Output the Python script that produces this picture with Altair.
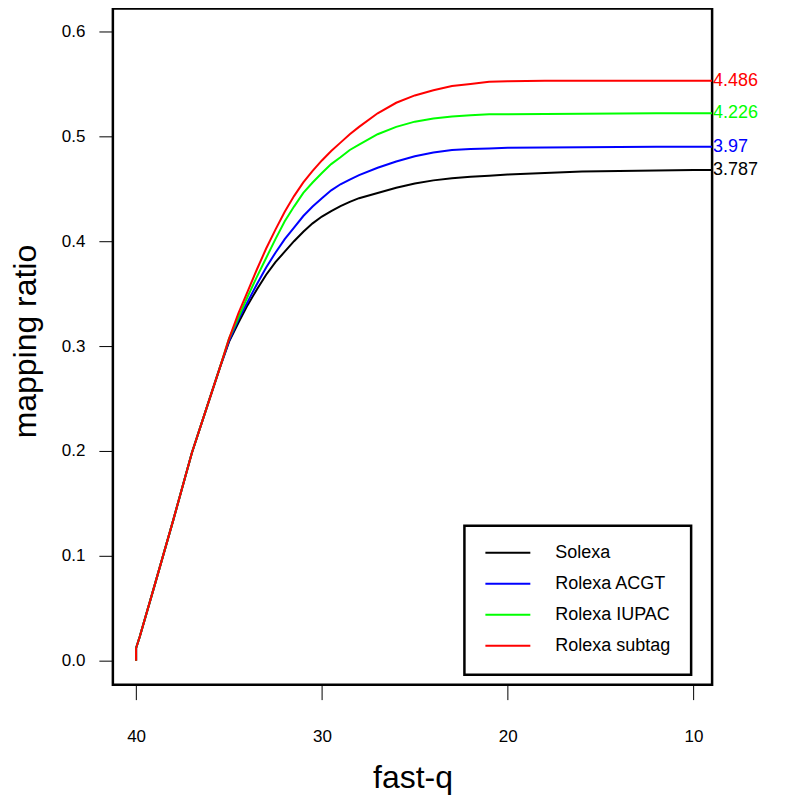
import altair as alt
import pandas as pd

series = ["Solexa", "Rolexa ACGT", "Rolexa IUPAC", "Rolexa subtag"]
colors = ["#000000", "#0000FF", "#00FF00", "#FF0000"]
end_labels = ["3.787", "3.97", "4.226", "4.486"]

fastq = [40, 40, 39.8, 39, 38.5, 38, 37, 36, 35.5,
         35, 34.5, 34, 33.5, 33, 32.5, 32, 31.5, 31, 30.5, 30, 29.5, 29, 28.5, 28,
         27, 26, 25, 24, 23, 22, 21, 20,
         18, 16, 14, 12, 10, 9]

start = [0.0, 0.012, 0.023, 0.072, 0.103, 0.134, 0.198, 0.252, 0.279]

solexa = start + [0.304, 0.322, 0.339, 0.354, 0.368, 0.380, 0.390, 0.400, 0.409, 0.417, 0.4235,
                  0.4287, 0.4335, 0.4375, 0.441,
                  0.446, 0.451, 0.455, 0.458, 0.460, 0.4615, 0.4625, 0.4635,
                  0.465, 0.4665, 0.467, 0.4675, 0.468, 0.468]
rolexa_acgt = start + [0.305, 0.325, 0.342, 0.359, 0.375, 0.389, 0.402, 0.413, 0.424, 0.433, 0.441,
                       0.4485, 0.4543, 0.4588, 0.463,
                       0.470, 0.476, 0.481, 0.4845, 0.487, 0.488, 0.4885, 0.489,
                       0.4893, 0.4896, 0.4898, 0.490, 0.490, 0.490]
rolexa_iupac = start + [0.307, 0.327, 0.347, 0.366, 0.384, 0.402, 0.419, 0.433, 0.446, 0.456, 0.465,
                        0.4735, 0.480, 0.487, 0.492,
                        0.502, 0.509, 0.514, 0.517, 0.519, 0.520, 0.521, 0.521,
                        0.5213, 0.5216, 0.5218, 0.522, 0.522, 0.522]
rolexa_subtag = start + [0.307, 0.331, 0.352, 0.373, 0.393, 0.411, 0.428, 0.443, 0.456, 0.467, 0.477,
                         0.486, 0.494, 0.502, 0.509,
                         0.522, 0.532, 0.539, 0.544, 0.548, 0.550, 0.552, 0.5525,
                         0.553, 0.553, 0.553, 0.553, 0.553, 0.553]

values = [solexa, rolexa_acgt, rolexa_iupac, rolexa_subtag]

rows = []
for s, vals in zip(series, values):
    for i, (q, v) in enumerate(zip(fastq, vals)):
        rows.append({"series": s, "fastq": q, "ratio": v, "idx": i})
df = pd.DataFrame(rows)

end_df = pd.DataFrame({
    "series": series,
    "fastq": [fastq[-1]] * len(series),
    "ratio": [v[-1] for v in values],
    "label": end_labels,
})

FONT = "Liberation Sans"

x_enc = alt.X(
    "fastq:Q",
    scale=alt.Scale(domain=[41.25, 9.0], nice=False, zero=False),
    axis=alt.Axis(values=[40, 30, 20, 10], format="d", title="fast-q",
                  tickSize=15, labelPadding=29, labelFontSize=17,
                  titleFontSize=32, titleBaseline="alphabetic", titleY=103),
)
y_enc = alt.Y(
    "ratio:Q",
    scale=alt.Scale(domain=[-0.0229, 0.6219], nice=False, zero=False),
    axis=alt.Axis(values=[0, 0.1, 0.2, 0.3, 0.4, 0.5, 0.6], format=".1f", title="mapping ratio",
                  tickSize=14, labelPadding=14, labelFontSize=17,
                  titleFontSize=32, titleAngle=270, titleBaseline="alphabetic",
                  titleAlign="center", titleX=-77, titleY=333),
)
color_scale = alt.Scale(domain=series, range=colors)

lines = alt.Chart(df).mark_line(strokeWidth=2).encode(
    x=x_enc,
    y=y_enc,
    color=alt.Color(
        "series:N", scale=color_scale, sort=series,
        legend=alt.Legend(
            title=None, orient="none", legendX=352, legendY=518,
            symbolType="stroke", symbolSize=2025, symbolStrokeWidth=2,
            clipHeight=14, rowPadding=13, labelOffset=24,
            labelFontSize=18, labelFont=FONT, labelColor="black",
            padding=20, strokeColor="black", fillColor="white",
        ),
    ),
    order=alt.Order("idx:Q"),
)

labels = alt.Chart(end_df).mark_text(
    align="left", baseline="middle", dx=1, fontSize=18, font=FONT
).encode(
    x="fastq:Q",
    y="ratio:Q",
    text="label:N",
    color=alt.Color("series:N", scale=color_scale, legend=None),
)

chart = alt.layer(lines, labels).properties(
    width=600, height=677,
    autosize=alt.AutoSizeParams(type="none"),
    padding={"left": 105, "top": 0, "right": 80, "bottom": 114},
    background="white",
).configure_view(
    stroke="black", strokeWidth=2.5
).configure_axis(
    grid=False, domain=False, tickColor="black", tickWidth=1,
    labelColor="black", titleColor="black",
    labelFont=FONT, titleFont=FONT, titleFontWeight="normal",
).configure_legend(
    strokeWidth=2.5
)

chart.save("out.html", embed_options={"renderer": "svg", "actions": False})
